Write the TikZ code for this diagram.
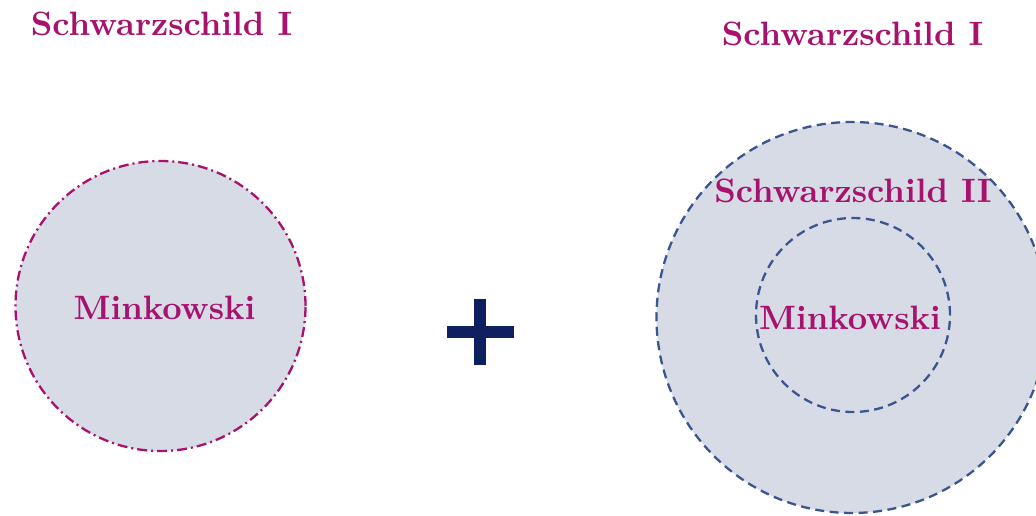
\documentclass[tikz,border=0pt]{standalone}
\usetikzlibrary{shapes.geometric}
\definecolor{titlemag}{RGB}{168,18,110}
\definecolor{diskfill}{RGB}{214,219,230}
\definecolor{ringblue}{RGB}{58,85,144}
\definecolor{plusnavy}{RGB}{14,32,96}
% bold roman at its 10pt design, scaled up
\font\bxlarge="[lmroman10-bold.otf]" at 33.8pt
\tikzset{
  label text/.style={text=titlemag, font=\bxlarge, inner sep=0pt, anchor=base},
  disk/.style={circle, fill=diskfill, inner sep=0pt, line width=2.3pt},
  dashdot ring/.style={draw=titlemag, dash pattern=on 10pt off 4pt on 2pt off 4pt},
  dash ring/.style={draw=ringblue, dash pattern=on 9pt off 5.5pt},
}
\begin{document}
\begin{tikzpicture}[x=1pt, y=-1pt]
  \useasboundingbox (0,0) rectangle (1036,515);
  \fill[white] (0,0) rectangle (1036,515);

  % left: Minkowski disk bounded by a dash-dot circle
  \node[disk, dashdot ring, minimum size=290pt] (leftdisk) at (160.5,306) {};
  \node[label text] (lefttitle) at (161.5,35) {Schwarzschild I};
  \node[label text] (leftmink) at (164.5,319) {Minkowski};

  % the plus sign
  \node[inner sep=0pt, minimum width=67pt, minimum height=11.5pt, fill=plusnavy] (plush) at (480,332) {};
  \node[inner sep=0pt, minimum width=11.5pt, minimum height=66pt, fill=plusnavy] (plusv) at (480,332) {};

  % right: nested disks with dashed borders
  \node[disk, dash ring, minimum size=391pt] (outerdisk) at (852,317.5) {};
  \node[circle, dash ring, line width=2.3pt, inner sep=0pt, minimum size=194pt] (innerdisk) at (853,315) {};
  \node[label text] (righttitle) at (852.5,45) {Schwarzschild I};
  \node[label text] (schwII) at (853,202) {Schwarzschild II};
  \node[label text] (rightmink) at (850,329) {Minkowski};
\end{tikzpicture}
\end{document}
